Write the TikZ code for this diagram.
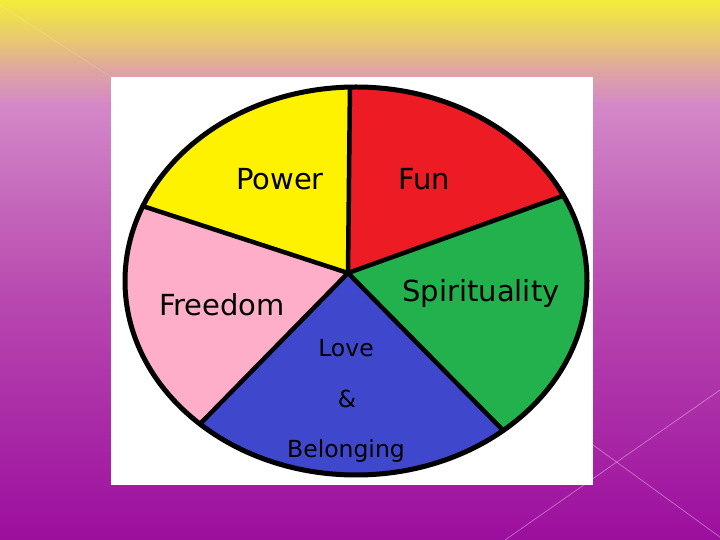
\documentclass[tikz,border=0pt]{standalone}
\usepackage{fontspec}
\setmainfont{DejaVu Sans}
\definecolor{bgA}{RGB}{156,14,158}
\definecolor{bgB}{RGB}{184,72,176}
\definecolor{bgC}{RGB}{196,104,188}
\definecolor{bgD}{RGB}{212,136,200}
\definecolor{bgE}{RGB}{222,165,160}
\definecolor{bgF}{RGB}{232,200,112}
\definecolor{bgG}{RGB}{243,236,58}
\definecolor{pyellow}{RGB}{255,242,0}
\definecolor{pred}{RGB}{237,28,36}
\definecolor{pgreen}{RGB}{34,177,76}
\definecolor{pblue}{RGB}{63,72,204}
\definecolor{ppink}{RGB}{255,174,201}
\pgfdeclareverticalshading{bgshade}{100bp}{color(0bp)=(bgA); color(25bp)=(bgA); color(47.2bp)=(bgB); color(56.5bp)=(bgC); color(65.3bp)=(bgD); color(68.5bp)=(bgE); color(71.3bp)=(bgF); color(75bp)=(bgG); color(100bp)=(bgG)}
\tikzset{
  spoke/.style={line width=4.5pt, black, line cap=round},
  rim/.style={line width=5pt, black},
  biglabel/.style={anchor=base, font=\fontsize{29}{34}\selectfont, inner sep=0pt},
  smalllabel/.style={anchor=base, font=\fontsize{23.5}{28}\selectfont, inner sep=0pt},
  deco/.style={white, opacity=0.35, line width=0.8pt}
}
\begin{document}
\begin{tikzpicture}[x=1pt,y=1pt]
\useasboundingbox (0,0) rectangle (720,540);
\shade[shading=bgshade] (0,0) rectangle (720,540);
% faint decorative lines
\draw[white, opacity=0.15, line width=0.8pt] (0,535) -- (111,463);
\draw[deco] (505,0) -- (720,150);
\draw[deco] (560,119) -- (724,0);
% white card
\fill[white] (111,55) rectangle (593,463);
% pie geometry
\coordinate (C) at (356,259);
\coordinate (H) at (348,267);
\coordinate (pT)  at ([shift={(91.5:231pt and 194pt)}]C);
\coordinate (pUL) at ([shift={(157.3:231pt and 194pt)}]C);
\coordinate (pUR) at ([shift={(26.1:231pt and 194pt)}]C);
\coordinate (pLL) at ([shift={(227.5:231pt and 194pt)}]C);
\coordinate (pLR) at ([shift={(309.6:231pt and 194pt)}]C);
% sectors
\fill[pyellow] (H) -- (pT) arc[start angle=91.5, end angle=157.3, x radius=231pt, y radius=194pt] -- cycle;
\fill[pred] (H) -- (pUR) arc[start angle=26.1, end angle=91.5, x radius=231pt, y radius=194pt] -- cycle;
\fill[pgreen] (H) -- (pLR) arc[start angle=-50.4, end angle=26.1, x radius=231pt, y radius=194pt] -- cycle;
\fill[pblue] (H) -- (pLL) arc[start angle=227.5, end angle=309.6, x radius=231pt, y radius=194pt] -- cycle;
\fill[ppink] (H) -- (pUL) arc[start angle=157.3, end angle=227.5, x radius=231pt, y radius=194pt] -- cycle;
% spokes
\draw[spoke] (H) -- (pT);
\draw[spoke] (H) -- (pUL);
\draw[spoke] (H) -- (pUR);
\draw[spoke] (H) -- (pLL);
\draw[spoke] (H) -- (pLR);
% rim
\draw[rim] (C) ellipse [x radius=231pt, y radius=194pt];
% labels
\node[biglabel] (power) at (280,350) {Power};
\node[biglabel] (fun) at (424,350) {Fun};
\node[biglabel] (spirit) at (481,238) {Spirituality};
\node[biglabel] (freedom) at (222,224) {Freedom};
\node[smalllabel] (love) at (346,183) {Love};
\node[smalllabel] (amp) at (347,132) {\&};
\node[smalllabel] (belong) at (346,82) {Belonging};
\end{tikzpicture}
\end{document}
